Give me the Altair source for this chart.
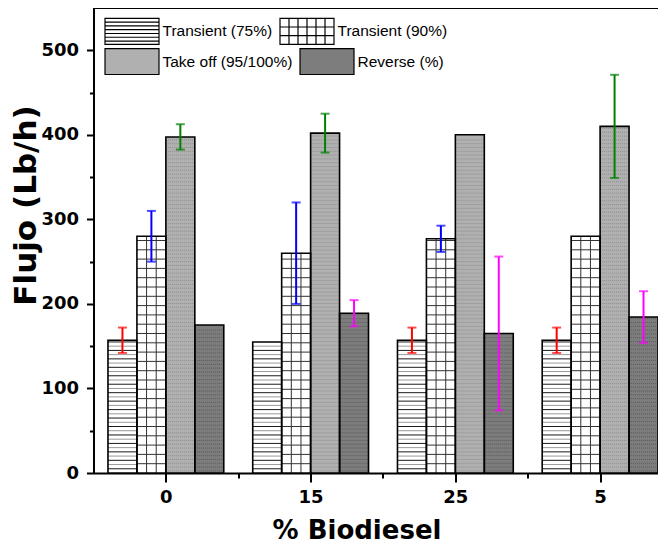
import json
import altair as alt
import pandas as pd

# ---------------- data ----------------
categories = ["0", "15", "25", "5"]
series = ["Transient (75%)", "Transient (90%)", "Take off (95/100%)", "Reverse (%)"]
transient75 = [157, 155, 157, 157]
transient90 = [280, 260, 277, 280]
takeoff = [397.5, 402, 400, 410]
reverse = [175, 189, 165, 184.5]
transient75_err = [15, None, 15, 15]
transient90_err = [30, 60, 15.5, None]
takeoff_err = [15, 23, None, 61]
reverse_err = [None, 15.5, 91, 30.5]
y_tick_values = [0, 50, 100, 150, 200, 250, 300, 350, 400, 450, 500]
x_tick_values = [0, 0.5, 1, 1.5, 2, 2.5, 3]

# ---------------- style ----------------
fills = ["white", "white", "#b0b0b0", "#7d7d7d"]
err_colors = ["#ff0000", "#0000ff", "#008000", "#ff00ff"]
GROUP = 0.8
BW = GROUP / 4
BOLD_FONT = "DejaVu Sans"
LEG_FONT = "Liberation Sans"
PLOT_W = 564.5
X_MAX = 3.4

rect_path = "M-1,-0.48H1V0.48H-1Z"
p75 = rect_path + "".join(f"M-1,{y}H1" for y in [-0.34, -0.2, -0.06, 0.08, 0.22, 0.36])
p90 = (rect_path + "".join(f"M{x},-0.48V0.48" for x in [-0.667, -0.333, 0, 0.333, 0.667])
       + "".join(f"M-1,{y}H1" for y in [-0.16, 0.16]))
shape_paths = [p75, p90, rect_path, rect_path]

values = [transient75, transient90, takeoff, reverse]
errs = [transient75_err, transient90_err, takeoff_err, reverse_err]

rows = []
for si, s in enumerate(series):
    for gi, c in enumerate(categories):
        x0 = gi - GROUP / 2 + si * BW
        v = values[si][gi]
        e = errs[si][gi]
        rows.append(dict(series=s, cat=c, x0=x0, x1=x0 + BW, xc=x0 + BW / 2, value=v,
                         lo=(v - e) if e is not None else None,
                         hi=(v + e) if e is not None else None,
                         fill=fills[si], ecol=err_colors[si], si=si))
bars = pd.DataFrame(rows)

# pattern lines derived from bar values
hatch_styles = {
    0: dict(step=5, start=5, colors=["#1a1a1a", "#9a9a9a"], kind="solid"),
    1: dict(step=11, start=11, colors=["#333333"], kind="solid"),
    2: dict(step=4.5, start=2.5, colors=["#8e8e8e"], kind="dot"),
    3: dict(step=4.5, start=2.5, colors=["#5a5a5a"], kind="dot"),
}
hatch = []
vlines = []
for r in rows:
    st = hatch_styles[r["si"]]
    y = st["start"]
    k = 0
    while y < r["value"] - 1.5:
        hatch.append(dict(x0=r["x0"], x1=r["x1"], y=y, color=st["colors"][k % len(st["colors"])],
                          kind=st["kind"]))
        y += st["step"]
        k += 1
    if r["si"] == 1:
        for f in (1 / 3, 2 / 3):
            vlines.append(dict(x=r["x0"] + f * BW, top=r["value"]))
hatch = pd.DataFrame(hatch)
vlines = pd.DataFrame(vlines)
errdf = bars.dropna(subset=["lo"])

x_scale = alt.Scale(domain=[-0.5, X_MAX], nice=False, zero=False)
y_scale = alt.Scale(domain=[0, 550], nice=False, zero=False)

label_expr = f"datum.value % 1 == 0 ? {json.dumps(categories)}[datum.value] : ''"

x_axis = alt.Axis(
    orient="bottom",
    values=x_tick_values, labelExpr=label_expr, tickSize=9, tickWidth=2, tickColor="black",
    tickDash={"condition": {"test": "datum.value % 1 != 0", "value": [5, 40]}, "value": [40, 0]},
    domainWidth=2, domainColor="black", grid=False,
    labelFont=BOLD_FONT, labelFontWeight="bold", labelFontSize=18, labelColor="black",
    labelPadding=6, labelOverlap=False, labelFlush=False,
    title="% Biodiesel", titleFont=BOLD_FONT, titleFontWeight="bold", titleFontSize=26,
    titleColor="black", titleX=263, titleY=57, titleBaseline="middle", titleAlign="center",
)
y_axis = alt.Axis(
    orient="left",
    values=y_tick_values, labelExpr="datum.value % 100 == 0 ? datum.label : ''",
    tickSize=7, tickWidth=2, tickColor="black",
    tickDash={"condition": {"test": "datum.value % 100 != 0", "value": [4, 40]}, "value": [40, 0]},
    domainWidth=2, domainColor="black", grid=False,
    labelFont=BOLD_FONT, labelFontWeight="bold", labelFontSize=18, labelColor="black",
    labelPadding=8, labelOverlap=False, labelFlush=False,
    title="Flujo (Lb/h)", titleFont=BOLD_FONT, titleFontWeight="bold", titleFontSize=31,
    titleColor="black", titleX=-67, titleY=197, titleAngle=270, titleBaseline="middle",
    titleAlign="center",
)

base = alt.Chart(bars)

fill_layer = base.mark_rect(strokeWidth=0).encode(
    x=alt.X("x0:Q", scale=x_scale, axis=x_axis),
    x2="x1:Q",
    y=alt.Y("value:Q", scale=y_scale, axis=y_axis),
    y2=alt.datum(0),
    fill=alt.Fill("fill:N", scale=None),
)

hatch_solid = alt.Chart(hatch[hatch.kind == "solid"]).mark_rule(strokeWidth=1).encode(
    x=alt.X("x0:Q", scale=x_scale, axis=None), x2="x1:Q",
    y=alt.Y("y:Q", scale=y_scale, axis=None),
    color=alt.Color("color:N", scale=None),
)
hatch_dot = alt.Chart(hatch[hatch.kind == "dot"]).mark_rule(strokeWidth=1, strokeDash=[1, 1]).encode(
    x=alt.X("x0:Q", scale=x_scale, axis=None), x2="x1:Q",
    y=alt.Y("y:Q", scale=y_scale, axis=None),
    color=alt.Color("color:N", scale=None),
)
vline_layer = alt.Chart(vlines).mark_rule(strokeWidth=1, color="#333333").encode(
    x=alt.X("x:Q", scale=x_scale, axis=None),
    y=alt.Y("top:Q", scale=y_scale, axis=None),
    y2=alt.datum(0),
)
outline = base.mark_rect(fill=None, fillOpacity=0, stroke="black", strokeWidth=1.6).encode(
    x=alt.X("x0:Q", scale=x_scale, axis=None), x2="x1:Q",
    y=alt.Y("value:Q", scale=y_scale, axis=None),
    y2=alt.datum(0),
)
err_rule = alt.Chart(errdf).mark_rule(strokeWidth=2).encode(
    x=alt.X("xc:Q", scale=x_scale, axis=None),
    y=alt.Y("lo:Q", scale=y_scale, axis=None), y2="hi:Q",
    color=alt.Color("ecol:N", scale=None),
)
cap_lo = alt.Chart(errdf).mark_tick(orient="horizontal", size=9, thickness=2).encode(
    x=alt.X("xc:Q", scale=x_scale, axis=None),
    y=alt.Y("lo:Q", scale=y_scale, axis=None),
    color=alt.Color("ecol:N", scale=None),
)
cap_hi = alt.Chart(errdf).mark_tick(orient="horizontal", size=9, thickness=2).encode(
    x=alt.X("xc:Q", scale=x_scale, axis=None),
    y=alt.Y("hi:Q", scale=y_scale, axis=None),
    color=alt.Color("ecol:N", scale=None),
)
# top frame line of the plot box
frame_top = base.mark_rule(strokeWidth=2, color="black").encode(y=alt.value(0))


# legend: two horizontal rows, each a flowing legend of two entries
def legend_row(idx, legend_y):
    sub_series = [series[i] for i in idx]
    sub_fills = [fills[i] for i in idx]
    sub_paths = [shape_paths[i] for i in idx]
    leg = alt.Legend(
        title=None, orient="none", legendX=10.5, legendY=legend_y, direction="horizontal",
        columnPadding=4, symbolSize=2916, symbolStrokeWidth=1.2, symbolOpacity=1,
        labelFont=LEG_FONT, labelFontSize=15.5, labelColor="black", labelOffset=2.5,
        labelLimit=300, padding=0,
    )
    sub = bars[bars.series.isin(sub_series)]
    return alt.Chart(sub).mark_point(filled=True, opacity=0, size=10).encode(
        x=alt.X("xc:Q", scale=x_scale, axis=None),
        y=alt.Y("value:Q", scale=y_scale, axis=None),
        fill=alt.Fill("series:N", scale=alt.Scale(domain=sub_series, range=sub_fills), legend=leg),
        shape=alt.Shape("series:N", scale=alt.Scale(domain=sub_series, range=sub_paths), legend=leg),
        stroke=alt.Stroke("series:N", scale=alt.Scale(domain=sub_series, range=["black"] * 2),
                          legend=leg),
    )


legend_row1 = legend_row([0, 1], -5)
legend_row2 = legend_row([2, 3], 25.2)

chart = alt.layer(
    fill_layer, hatch_solid, hatch_dot, vline_layer, outline, err_rule, cap_lo, cap_hi,
    frame_top, legend_row1, legend_row2
).resolve_axis(x="independent", y="independent").resolve_scale(
    fill="independent", shape="independent", stroke="independent"
).resolve_legend(
    fill="independent", shape="independent", stroke="independent"
).properties(
    width=PLOT_W, height=465,
    autosize=alt.AutoSizeParams(type="none"),
    padding={"left": 85.5, "top": 0, "right": 0, "bottom": 74},
).configure_view(stroke=None).configure(background="white")

chart.save("out.html", embed_options={"renderer": "svg", "actions": False})
